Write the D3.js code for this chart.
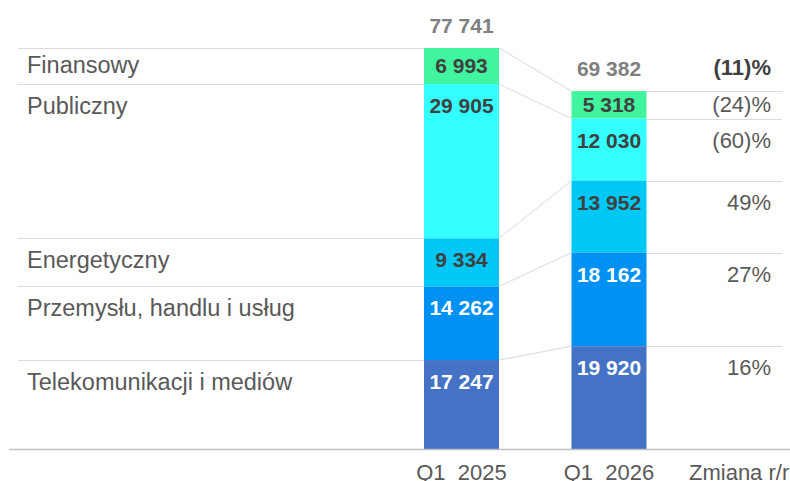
<!DOCTYPE html>
<html><head><meta charset="utf-8">
<script src="https://cdn.jsdelivr.net/npm/d3@7"></script>
<style>
html,body{margin:0;padding:0;background:#fff;}
svg{display:block;font-family:"Liberation Sans",Arial,sans-serif;}
</style></head>
<body>
<svg id="chart" width="790" height="481"></svg>
<script>
const categories = ["Finansowy","Publiczny","Energetyczny","Przemysłu, handlu i usług","Telekomunikacji i mediów"];
const periods = ["Q1  2025","Q1  2026"];
const values2025 = [6993, 29905, 9334, 14262, 17247];
const values2026 = [5318, 12030, 13952, 18162, 19920];
const totals = [77741, 69382];
const changes = ["(24)%","(60)%","49%","27%","16%"];
const totalChange = "(11)%";
const changeHeader = "Zmiana r/r";
const colors = ["#40F59D","#33FFFF","#00C8F5","#0091F3","#4472C4"];
const labelColors = ["#404040","#404040","#404040","#ffffff","#ffffff"];

const svg = d3.select("#chart");
const fmt = v => d3.format(",")(v).replace(/,/g, " ");

const y = d3.scaleLinear().domain([0, d3.max(totals)]).range([449, 48]);
const x = d3.scaleBand().domain(periods).range([387.75, 682.75]).padding(0);
const barW = 75;
const bx = p => x(p) + x.bandwidth()/2 - barW/2;

const rows = periods.map((p, i) => {
  const o = {period: p};
  categories.forEach((c, j) => o[c] = (i === 0 ? values2025 : values2026)[j]);
  return o;
});
const stack = d3.stack().keys(categories.slice().reverse())(rows);
const seg = categories.map(c => stack.find(s => s.key === c));

const grid = "#D9D9D9";
categories.forEach((c, j) => {
  const top = seg[j][0][1];
  svg.append("line").attr("x1", 18).attr("x2", bx(periods[0]))
    .attr("y1", Math.round(y(top)) + 0.5).attr("y2", Math.round(y(top)) + 0.5)
    .attr("stroke", grid).attr("stroke-width", 1);
  const top2 = seg[j][1][1];
  svg.append("line").attr("x1", bx(periods[1]) + barW).attr("x2", 782)
    .attr("y1", Math.round(y(top2)) + 0.5).attr("y2", Math.round(y(top2)) + 0.5)
    .attr("stroke", grid).attr("stroke-width", 1);
  svg.append("line").attr("x1", bx(periods[0]) + barW).attr("x2", bx(periods[1]))
    .attr("y1", y(top)).attr("y2", y(top2))
    .attr("stroke", grid).attr("stroke-width", 1);
});

categories.forEach((c, j) => {
  periods.forEach((p, i) => {
    const d = seg[j][i];
    svg.append("rect").attr("x", bx(p)).attr("width", barW)
      .attr("y", y(d[1])).attr("height", y(d[0]) - y(d[1]))
      .attr("fill", colors[j]);
  });
});

const valBase = (d) => {
  const t = y(d[1]), b = y(d[0]);
  return Math.min(t + 29, (t + b)/2 + 7);
};

categories.forEach((c, j) => {
  periods.forEach((p, i) => {
    const d = seg[j][i];
    svg.append("text").attr("x", x(p) + x.bandwidth()/2).attr("y", valBase(d))
      .attr("text-anchor", "middle").attr("font-size", 21).attr("font-weight", "bold")
      .attr("fill", labelColors[j]).text(fmt((i === 0 ? values2025 : values2026)[j]));
  });
  const d0 = seg[j][0];
  const t0 = y(d0[1]), b0 = y(d0[0]);
  svg.append("text").attr("x", 27).attr("y", Math.min(t0 + 29.5, (t0 + b0)/2 + 7))
    .attr("font-size", 23.5).attr("fill", "#595959").text(c);
  svg.append("text").attr("x", 771).attr("y", valBase(seg[j][1]))
    .attr("text-anchor", "end").attr("font-size", 22).attr("fill", "#595959").text(changes[j]);
});

periods.forEach((p, i) => {
  svg.append("text").attr("x", x(p) + x.bandwidth()/2).attr("y", y(totals[i]) - 15.5)
    .attr("text-anchor", "middle").attr("font-size", 21).attr("font-weight", "bold")
    .attr("fill", "#7F7F7F").text(fmt(totals[i]));
});
svg.append("text").attr("x", 771).attr("y", y(totals[1]) - 16)
  .attr("text-anchor", "end").attr("font-size", 22).attr("font-weight", "bold")
  .attr("fill", "#404040").text(totalChange);

svg.append("line").attr("x1", 9).attr("x2", 790).attr("y1", 449.5).attr("y2", 449.5)
  .attr("stroke", "#BFBFBF").attr("stroke-width", 1.5);

const xAxis = svg.append("g").attr("transform", "translate(0,449)")
  .call(d3.axisBottom(x).tickSize(0).tickPadding(0));
xAxis.select(".domain").remove();
xAxis.selectAll("text").attr("y", 31).attr("dy", null)
  .attr("font-size", 22).attr("fill", "#595959")
  .attr("font-family", "Liberation Sans, Arial, sans-serif")
  .style("white-space", "pre");

svg.append("text").attr("x", 689).attr("y", 480).attr("font-size", 22)
  .attr("fill", "#595959").text(changeHeader);
</script>
</body></html>
